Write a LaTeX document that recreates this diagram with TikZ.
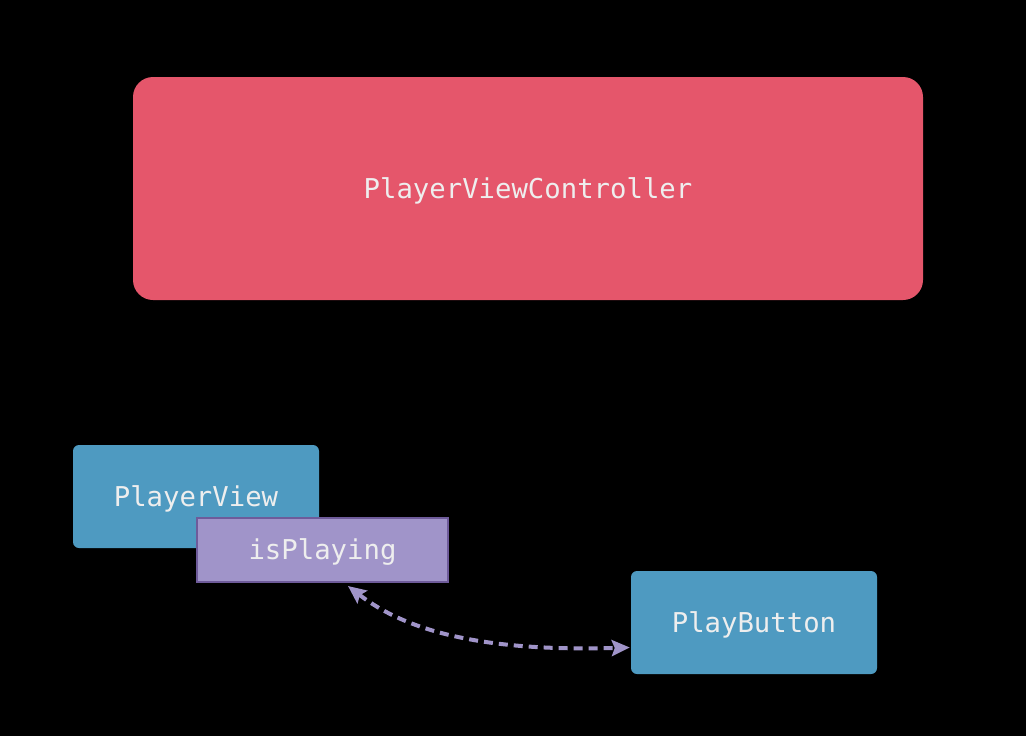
\documentclass[tikz,border=0pt]{standalone}
\usepackage{fontspec}
\setmonofont{DejaVu Sans Mono}
\usetikzlibrary{arrows.meta,calc}
\definecolor{pvcred}{HTML}{E5566B}
\definecolor{viewblue}{HTML}{4E9AC1}
\definecolor{proppurple}{HTML}{A094C9}
\definecolor{propborder}{HTML}{6E5B9A}
\definecolor{txt}{HTML}{EEEEEE}
\tikzset{
  lbl/.style={text=txt, font=\ttfamily\fontsize{27.3}{32}\selectfont, text height=25pt, text depth=6pt},
  bigbox/.style={fill=pvcred, rounded corners=20pt, inner sep=0pt, lbl},
  viewbox/.style={fill=viewblue, rounded corners=6pt, inner sep=0pt, lbl},
  propbox/.style={fill=proppurple, draw=propborder, line width=2pt, inner sep=0pt, lbl},
  bind/.style={draw=proppurple, line width=4pt, dash pattern=on 9pt off 6pt, {Stealth[length=18pt,width=16pt,inset=3pt]}-{Stealth[length=18pt,width=16pt,inset=3pt]}}
}
\begin{document}
\begin{tikzpicture}[x=1pt,y=-1pt]
\fill[black] (0,0) rectangle (1026,736);
\useasboundingbox (0,0) rectangle (1026,736);
\node[bigbox, minimum width=790pt, minimum height=223pt] (pvc) at (528,188.5) {PlayerViewController};
\node[viewbox, minimum width=246pt, minimum height=103pt] (pv) at (196,496.5) {PlayerView};
\node[propbox, minimum width=251pt, minimum height=64pt] (isp) at (322.5,550) {isPlaying};
\node[viewbox, minimum width=246pt, minimum height=103pt] (pb) at (754,622.5) {PlayButton};
\coordinate (a) at ($(isp.south west)+(152,3)$);
\coordinate (b) at ($(pb.west)+(-1,25)$);
\draw[bind] (a) .. controls (405,630) and (480,652) .. (b);
\end{tikzpicture}
\end{document}
